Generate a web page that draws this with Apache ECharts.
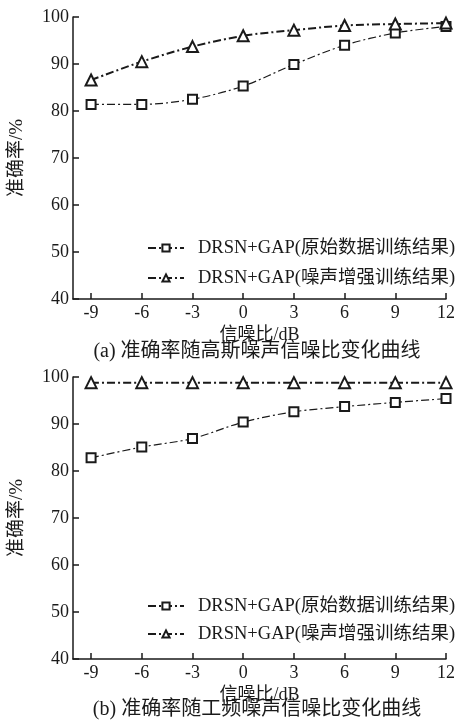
<!DOCTYPE html>
<html>
<head>
<meta charset="utf-8">
<script src="https://cdn.jsdelivr.net/npm/echarts@6/dist/echarts.min.js"></script>
<style>
html,body{margin:0;padding:0;background:#fff;}
#c{width:458px;height:728px;}
</style>
</head>
<body>
<div id="c"></div>
<script>
var snr = [-9, -6, -3, 0, 3, 6, 9, 12];
var xTicks = [-9, -6, -3, 0, 3, 6, 9, 12];
var gaussOrig = [81.4, 81.4, 82.5, 85.3, 89.9, 94.0, 96.6, 98.0];
var gaussAug = [86.6, 90.5, 93.7, 96.0, 97.2, 98.2, 98.5, 98.7];
var powerOrig = [82.8, 85.1, 86.9, 90.4, 92.6, 93.7, 94.6, 95.4];
var powerAug = [98.8, 98.8, 98.8, 98.8, 98.8, 98.8, 98.8, 98.8];
var nameOrig = 'DRSN+GAP(原始数据训练结果)';
var nameAug = 'DRSN+GAP(噪声增强训练结果)';
var captionA = '(a) 准确率随高斯噪声信噪比变化曲线';
var captionB = '(b) 准确率随工频噪声信噪比变化曲线';
var xName = '信噪比/dB';
var yName = '准确率/%';

var FONT = '"Liberation Serif", "Noto Sans CJK SC", serif';
var INK = '#1a1a1a';

function pairs(v) { return snr.map(function (x, i) { return [x, v[i]]; }); }

function xAxisCfg(gi) {
  return {
    type: 'value', gridIndex: gi, min: -10.07, max: 12,
    axisLine: { show: true, onZero: false, lineStyle: { color: INK, width: 1.5 } },
    axisTick: { show: true, inside: true, length: 6, customValues: xTicks, lineStyle: { color: INK, width: 1.5 } },
    axisLabel: { customValues: xTicks, color: INK, fontFamily: FONT, fontSize: 18, margin: 5 },
    splitLine: { show: false },
    name: xName, nameLocation: 'middle', nameGap: 27,
    nameTextStyle: { color: INK, fontFamily: FONT, fontSize: 18 }
  };
}
function yAxisCfg(gi) {
  return {
    type: 'value', gridIndex: gi, min: 40, max: 100, interval: 10,
    axisLine: { show: true, onZero: false, lineStyle: { color: INK, width: 1.5 } },
    axisTick: { show: true, inside: true, length: 6, lineStyle: { color: INK, width: 1.5 } },
    axisLabel: { color: INK, fontFamily: FONT, fontSize: 18, margin: 4 },
    splitLine: { show: false },
    name: yName, nameLocation: 'middle', nameGap: 46, nameRotate: 90,
    nameTextStyle: { color: INK, fontFamily: FONT, fontSize: 19 }
  };
}
function seriesCfg(name, data, gi, sym) {
  var aug = sym === 'triangle';
  return {
    name: name, type: 'line', xAxisIndex: gi, yAxisIndex: gi,
    data: pairs(data), smooth: 0.3,
    symbol: aug ? 'emptyTriangle' : 'emptyRect',
    symbolSize: aug ? 11 : 9,
    itemStyle: { color: INK, borderColor: INK, borderWidth: aug ? 1.8 : 1.2 },
    lineStyle: { color: INK, width: aug ? 2 : 1.2, type: [8, 3, 2, 3] },
    emphasis: { disabled: true },
    animation: false
  };
}
function legendCfg(top, gap, gi) {
  return {
    orient: 'vertical', left: 142, top: top, itemGap: gap,
    itemWidth: 36, itemHeight: 9,
    data: gi === 0 ? [nameOrig, nameAug] : [nameOrig + ' ', nameAug + ' '],
    formatter: function (n) { return n.trim(); },
    textStyle: { color: INK, fontFamily: FONT, fontSize: 18.5, lineHeight: 20, padding: [0, 0, 0, 9] },
    selectedMode: false
  };
}

var chart = echarts.init(document.getElementById('c'), null, { renderer: 'canvas' });
chart.setOption({
  backgroundColor: '#fff',
  animation: false,
  grid: [
    { left: 62, top: 17, width: 385, height: 282 },
    { left: 62, top: 377, width: 385, height: 282 }
  ],
  xAxis: [xAxisCfg(0), xAxisCfg(1)],
  yAxis: [yAxisCfg(0), yAxisCfg(1)],
  legend: [legendCfg(233, 10, 0), legendCfg(591, 8, 1)],
  title: [
    { text: captionA, left: 252, textAlign: 'center', top: 337,
      textStyle: { color: INK, fontFamily: FONT, fontSize: 20, fontWeight: 'normal' } },
    { text: captionB, left: 252, textAlign: 'center', top: 695,
      textStyle: { color: INK, fontFamily: FONT, fontSize: 20, fontWeight: 'normal' } }
  ],
  series: [
    seriesCfg(nameOrig, gaussOrig, 0, 'rect'),
    seriesCfg(nameAug, gaussAug, 0, 'triangle'),
    seriesCfg(nameOrig + ' ', powerOrig, 1, 'rect'),
    seriesCfg(nameAug + ' ', powerAug, 1, 'triangle')
  ]
});
</script>
</body>
</html>
